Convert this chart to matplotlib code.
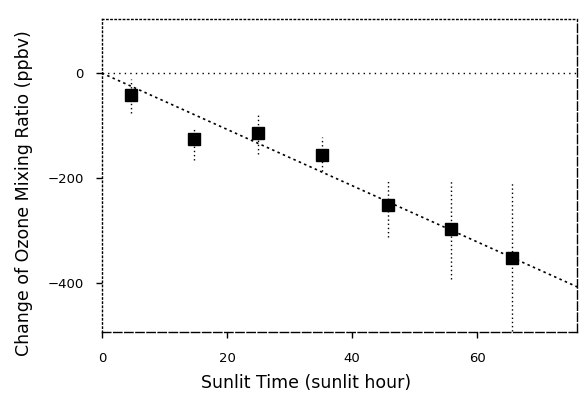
import matplotlib
matplotlib.use("Agg")
import matplotlib.pyplot as plt
import numpy as np

# == data
hours = [4.6, 14.8, 25.0, 35.2, 45.8, 55.8, 65.6]
d_o3 = [-42, -125, -114, -156, -251, -297, -352]
err_lo = [34, 41, 40, 30, 61, 95, 138]
err_hi = [30, 22, 38, 34, 47, 95, 143]

fit_x = [0, 76]
fit_y = [0, -407]

xticks = [0, 20, 40, 60]
yticks = [0, -200, -400]

plt.rcParams["font.family"] = ["DejaVu Sans"]

fig = plt.figure(figsize=(5.79, 4.04), dpi=100)
ax = fig.add_axes([0.176, 0.178, 0.821, 0.775])

ax.axhline(0, color="black", lw=1.0, ls=(0, (1, 3)))
ax.plot(fit_x, fit_y, color="black", lw=1.2, ls=(0, (1.5, 2)))

eb = ax.errorbar(hours, d_o3, yerr=[err_lo, err_hi], fmt="s", color="black",
                 markersize=8, ecolor="black", elinewidth=1.0, capsize=0)
eb[2][0].set_linestyle((0, (1, 2)))

ax.set_xlim(0, 76)
ax.set_ylim(-493, 103)
ax.set_xticks(xticks)
ax.set_yticks(yticks)
ax.tick_params(direction="out", length=4, width=1, labelsize=9.5)
ax.tick_params(axis="y", pad=9)
ax.tick_params(axis="x", pad=10)

for side in ["left", "top"]:
    ax.spines[side].set_linestyle((0, (1, 2)))
for side in ["right", "bottom"]:
    ax.spines[side].set_linestyle((0, (6, 2)))
for s in ax.spines.values():
    s.set_linewidth(1.0)

ax.set_xlabel("Sunlit Time (sunlit hour)", fontsize=12.5)
ax.set_ylabel("Change of Ozone Mixing Ratio (ppbv)", fontsize=12.5)
ax.xaxis.set_label_coords(0.43, -0.135)
ax.yaxis.set_label_coords(-0.145, 0.444)

fig.savefig("out.png", dpi=100)
